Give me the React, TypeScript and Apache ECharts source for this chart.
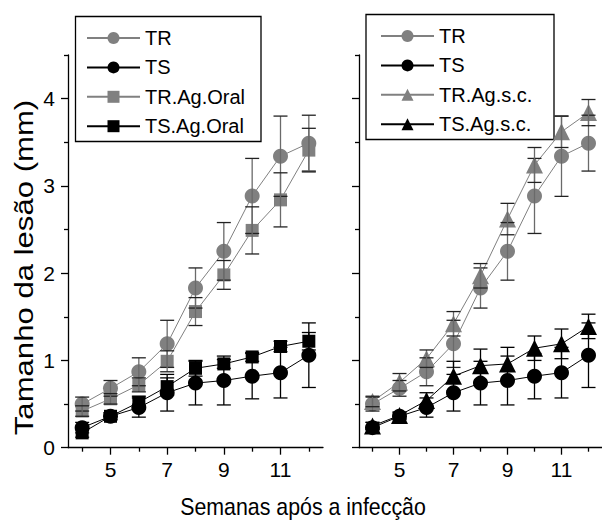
import React, { useEffect, useRef } from "react";
import * as echarts from "echarts";

const weeks = [4, 5, 6, 7, 8, 9, 10, 11, 12];
const majorX = [5, 7, 9, 11];
const minorX = [4, 6, 8, 10, 12];
const majorY = [0, 1, 2, 3, 4];
const minorY = [0.5, 1.5, 2.5, 3.5, 4.5];

const TR = [0.5, 0.68, 0.87, 1.19, 1.83, 2.25, 2.885, 3.34, 3.49];
const TR_err = [0.08, 0.09, 0.16, 0.27, 0.23, 0.33, 0.43, 0.46, 0.32];
const TS = [0.23, 0.36, 0.46, 0.63, 0.74, 0.77, 0.82, 0.86, 1.06];
const TS_err = [0.06, 0.04, 0.11, 0.21, 0.25, 0.28, 0.26, 0.29, 0.37];
const TR_Oral = [0.42, 0.56, 0.72, 0.99, 1.56, 1.98, 2.49, 2.84, 3.41];
const TR_Oral_err = [0.06, 0.06, 0.08, 0.12, 0.16, 0.165, 0.27, 0.31, 0.25];
const TS_Oral = [0.17, 0.36, 0.52, 0.7, 0.91, 0.96, 1.04, 1.16, 1.22];
const TS_Oral_err = [0.05, 0.04, 0.07, 0.1, 0.09, 0.05, 0.05, 0.06, 0.1];
const TR_sc = [0.53, 0.75, 1.02, 1.42, 1.97, 2.62, 3.24, 3.62, 3.84];
const TR_sc_err = [0.06, 0.1, 0.1, 0.14, 0.14, 0.18, 0.2, 0.18, 0.15];
const TS_sc = [0.25, 0.37, 0.54, 0.82, 0.94, 0.96, 1.14, 1.19, 1.39];
const TS_sc_err = [0.04, 0.04, 0.09, 0.17, 0.19, 0.19, 0.14, 0.17, 0.14];

const leftNames = ["TR", "TS", "TR.Ag.Oral", "TS.Ag.Oral"];
const rightNames = ["TR", "TS", "TR.Ag.s.c.", "TS.Ag.s.c."];

const GREY = "#808080";
const BLACK = "#000000";
const FONT = "Liberation Sans, Arial, sans-serif";

function errRender(stem: string, cap: string) {
  return (params: any, api: any) => {
    const x = api.value(0);
    const lo = api.coord([x, api.value(1)]);
    const hi = api.coord([x, api.value(2)]);
    const hw = 7;
    return {
      type: "group",
      children: [
        { type: "line", shape: { x1: lo[0], y1: lo[1], x2: hi[0], y2: hi[1] }, style: { stroke: stem, lineWidth: 1.3 } },
        { type: "line", shape: { x1: lo[0] - hw, y1: lo[1], x2: lo[0] + hw, y2: lo[1] }, style: { stroke: cap, lineWidth: 1.3 } },
        { type: "line", shape: { x1: hi[0] - hw, y1: hi[1], x2: hi[0] + hw, y2: hi[1] }, style: { stroke: cap, lineWidth: 1.3 } },
      ],
    };
  };
}

function makeSeries(name: string, vals: number[], errs: number[], color: string, symbol: string, size: number, axis: number) {
  const line = {
    type: "line",
    name,
    xAxisIndex: axis,
    yAxisIndex: axis,
    data: weeks.map((w, i) => [w, vals[i]]),
    symbol,
    symbolSize: size,
    showSymbol: true,
    itemStyle: { color, opacity: 1 },
    lineStyle: { color, width: 1 },
    z: 2,
  };
  const err = {
    type: "custom",
    name: name + "_err",
    xAxisIndex: axis,
    yAxisIndex: axis,
    data: weeks.map((w, i) => [w, vals[i] - errs[i], vals[i] + errs[i]]),
    encode: { x: 0, y: [1, 2] },
    renderItem: errRender(color === GREY ? "#6a6a6a" : BLACK, color === GREY ? "#222" : BLACK),
    z: 3,
    silent: true,
  };
  return [line, err];
}

function xAxes(grid: number) {
  return [
    {
      type: "value", gridIndex: grid, min: 3.5, max: 12.5, position: "bottom",
      axisLine: { show: true, lineStyle: { color: BLACK, width: 1.3 } },
      axisTick: { show: true, customValues: majorX, length: 7, lineStyle: { color: BLACK, width: 1.3 } },
      axisLabel: { show: true, customValues: majorX, fontSize: 21, fontFamily: FONT, color: BLACK, margin: 11 },
      splitLine: { show: false },
    },
    {
      type: "value", gridIndex: grid, min: 3.5, max: 12.5, position: "bottom",
      axisLine: { show: false },
      axisTick: { show: true, customValues: minorX, length: 4, lineStyle: { color: BLACK, width: 1.3 } },
      axisLabel: { show: false },
      splitLine: { show: false },
    },
  ];
}

function yAxes(grid: number, labels: boolean) {
  return [
    {
      type: "value", gridIndex: grid, min: 0, max: 4.5, position: "left",
      axisLine: { show: true, lineStyle: { color: BLACK, width: 1.3 } },
      axisTick: { show: true, customValues: majorY, length: 7, lineStyle: { color: BLACK, width: 1.3 } },
      axisLabel: { show: labels, customValues: majorY, fontSize: 21, fontFamily: FONT, color: BLACK, margin: 13 },
      splitLine: { show: false },
    },
    {
      type: "value", gridIndex: grid, min: 0, max: 4.5, position: "left", offset: 0,
      axisLine: { show: false },
      axisTick: { show: true, customValues: minorY, length: 4, lineStyle: { color: BLACK, width: 1.3 } },
      axisLabel: { show: false },
      splitLine: { show: false },
    },
  ];
}

function legend(names: string[], left: number, top: number) {
  return {
    data: names,
    orient: "vertical",
    left,
    top,
    padding: 0,
    itemWidth: 53,
    itemHeight: 15,
    itemGap: 9.4,
    selectedMode: false,
    textStyle: { fontSize: 20, fontFamily: FONT, color: BLACK, lineHeight: 20 },
  };
}

export default function App() {
  const ref = useRef<HTMLDivElement>(null);
  useEffect(() => {
    if (!ref.current) return;
    const chart = echarts.init(ref.current, undefined, { renderer: "svg" });
    const series = [
      ...makeSeries("TR", TR, TR_err, GREY, "circle", 15, 0),
      ...makeSeries("TS", TS, TS_err, BLACK, "circle", 15, 0),
      ...makeSeries("TR.Ag.Oral", TR_Oral, TR_Oral_err, GREY, "rect", 13, 0),
      ...makeSeries("TS.Ag.Oral", TS_Oral, TS_Oral_err, BLACK, "rect", 13, 0),
      ...makeSeries("TR", TR, TR_err, GREY, "circle", 15, 2),
      ...makeSeries("TS", TS, TS_err, BLACK, "circle", 15, 2),
      ...makeSeries("TR.Ag.s.c.", TR_sc, TR_sc_err, GREY, "triangle", 17, 2),
      ...makeSeries("TS.Ag.s.c.", TS_sc, TS_sc_err, BLACK, "triangle", 17, 2),
    ];
    chart.setOption({
      animation: false,
      backgroundColor: "#ffffff",
      grid: [
        { left: 68, top: 55, width: 255, height: 392.7 },
        { left: 359, top: 55, width: 255, height: 392.7 },
      ],
      xAxis: [...xAxes(0), ...xAxes(1)],
      yAxis: [...yAxes(0, true), ...yAxes(1, false)],
      legend: [legend(leftNames, 86, 28), legend(rightNames, 380, 26)],
      series,
      graphic: [
        { type: "rect", shape: { x: 75.5, y: 16.5, width: 185.5, height: 125 }, style: { fill: "none", stroke: BLACK, lineWidth: 1.3 }, z: 1 },
        { type: "rect", shape: { x: 366, y: 14.5, width: 188, height: 125 }, style: { fill: "none", stroke: BLACK, lineWidth: 1.3 }, z: 1 },
        {
          type: "text", x: 303, y: 506.5, scaleX: 0.89,
          style: { text: "Semanas após a infecção", fontSize: 24, fontFamily: FONT, fill: BLACK, align: "center", verticalAlign: "middle" },
        },
        {
          type: "text", x: 24, y: 267.5, rotation: Math.PI / 2, scaleX: 1.22,
          style: { text: "Tamanho da lesão (mm)", fontSize: 25.5, fontFamily: FONT, fill: BLACK, align: "center", verticalAlign: "middle" },
        },
      ],
    });
    return () => chart.dispose();
  }, []);
  return <div ref={ref} style={{ position: "absolute", left: 0, top: 0, width: 602, height: 520 }} />;
}
